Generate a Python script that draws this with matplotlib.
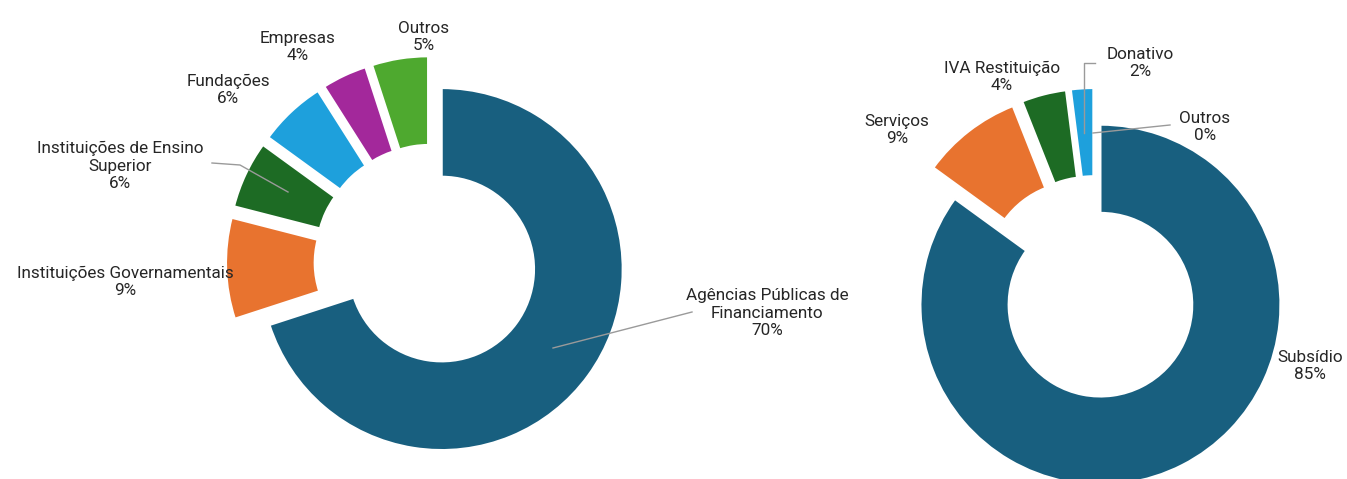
import matplotlib.pyplot as plt

plt.rcParams['font.family'] = ['Roboto', 'DejaVu Sans']

# origem do financiamento (esquerda)
fontes_nomes = ['Agências Públicas de\nFinanciamento', 'Instituições Governamentais',
                'Instituições de Ensino\nSuperior', 'Fundações', 'Empresas', 'Outros']
fontes_pct = [70, 9, 6, 6, 4, 5]
fontes_cores = ['#185f7f', '#e8732f', '#1d6b24', '#1ea0dc', '#a3289b', '#4ea92f']

# tipo de receita (direita)
receitas_nomes = ['Subsídio', 'Serviços', 'IVA Restituição', 'Donativo', 'Outros']
receitas_pct = [85, 9, 4, 2, 0]
receitas_cores = ['#185f7f', '#e8732f', '#1d6b24', '#1ea0dc', '#a3289b']

W, H = 1347, 479
fig = plt.figure(figsize=(W / 100, H / 100), dpi=100)
ax = fig.add_axes([0, 0, 1, 1])

# coordenadas em pixeis (y para cima)
def donut(valores, cores, centro, raio, explode):
    ax.pie(valores, colors=cores, startangle=90, counterclock=False,
           center=centro, radius=raio, explode=explode,
           wedgeprops=dict(width=raio * 0.49, edgecolor='white', linewidth=1.5))

donut(fontes_pct, fontes_cores, (432, H - 262), 181, [12, 25, 25, 25, 25, 25])
donut(receitas_pct, receitas_cores, (1095, H - 294), 180, [12, 26, 26, 26, 26])

ax.set_xlim(0, W)
ax.set_ylim(0, H)
ax.set_aspect('equal')
ax.axis('off')

def rotulo(nome, pct, x, y):
    ax.text(x, H - y, f'{nome}\n{pct}%', ha='center', va='center',
            fontsize=12.3, color='#262626', linespacing=1.22)

def linha(xs, ys):
    ax.plot(xs, [H - v for v in ys], color='#9a9a9a', lw=1)

pos_esq = [(767, 313), (125, 282), (120, 166), (228, 90), (298, 47), (424, 37)]
for nome, pct, (x, y) in zip(fontes_nomes, fontes_pct, pos_esq):
    rotulo(nome, pct, x, y)
linha([692, 553], [312, 348])
linha([212, 240, 288], [163, 165, 192])

pos_dir = [(1310, 366), (897, 130), (1002, 77), (1140, 63), (1205, 127)]
for nome, pct, (x, y) in zip(receitas_nomes, receitas_pct, pos_dir):
    rotulo(nome, pct, x, y)
linha([1095, 1084, 1084], [63, 63, 133])
linha([1093, 1170], [133, 125])

fig.savefig('out.png', dpi=100, facecolor='white')
